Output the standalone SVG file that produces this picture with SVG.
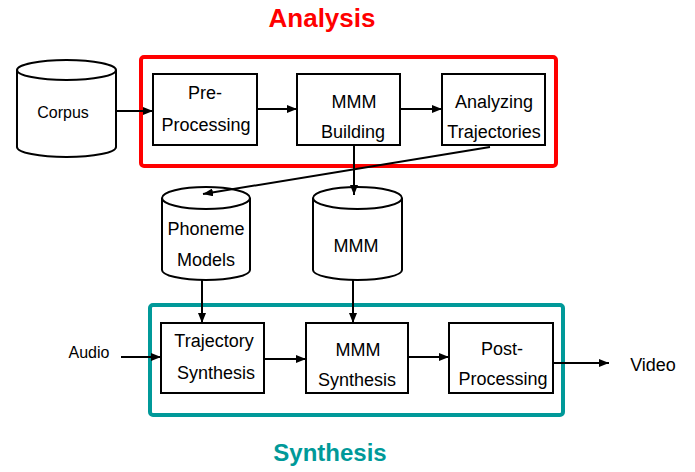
<svg xmlns="http://www.w3.org/2000/svg" width="695" height="472" viewBox="0 0 695 472">
  <defs>
    <marker id="arrow" markerWidth="10" markerHeight="8" refX="10" refY="4" orient="auto" markerUnits="userSpaceOnUse">
      <path d="M0,0 L10,4 L0,8 Z" fill="#000"/>
    </marker>
    <style>
      .box { fill: #fff; stroke: #000; stroke-width: 2; }
      .cyl { fill: #fff; stroke: #000; stroke-width: 2; stroke-linejoin: round; }
      .lbl { font-family: "Liberation Sans", Arial, sans-serif; font-size: 18px; fill: #000; text-anchor: middle; }
      .sm { font-size: 16px; }
      .conn { stroke: #000; stroke-width: 2; fill: none; marker-end: url(#arrow); }
      .title { font-family: "Liberation Sans", Arial, sans-serif; font-weight: bold; text-anchor: middle; }
    </style>
  </defs>

  <rect width="695" height="472" fill="#fff"/>

  <!-- section titles -->
  <text class="title" x="322" y="27" font-size="26" fill="#FF0000">Analysis</text>
  <text class="title" x="330" y="461" font-size="24" fill="#009999">Synthesis</text>

  <!-- section frames -->
  <rect id="analysis-frame" x="141" y="57" width="415" height="109" rx="3" fill="none" stroke="#FF0000" stroke-width="4"/>
  <rect id="synthesis-frame" x="150" y="305" width="413" height="110" rx="3" fill="none" stroke="#009999" stroke-width="4"/>

  <!-- data stores -->
  <g id="corpus">
    <path class="cyl" d="M17,70 A49.5,10 0 0 1 116,70 L116,147 A49.5,10 0 0 1 17,147 Z"/>
    <path class="cyl" d="M17,70 A49.5,10 0 0 0 116,70" fill="none"/>
    <text class="lbl sm" x="63" y="118">Corpus</text>
  </g>
  <g id="phoneme-models">
    <path class="cyl" d="M162,198 A44,11 0 0 1 250,198 L250,270 A44,10 0 0 1 162,270 Z"/>
    <path class="cyl" d="M162,198 A44,11 0 0 0 250,198" fill="none"/>
    <text class="lbl" x="206" y="235">Phoneme</text>
    <text class="lbl" x="206" y="266">Models</text>
  </g>
  <g id="mmm-store">
    <path class="cyl" d="M313,198 A44.5,11 0 0 1 402,198 L402,270 A44.5,10 0 0 1 313,270 Z"/>
    <path class="cyl" d="M313,198 A44.5,11 0 0 0 402,198" fill="none"/>
    <text class="lbl" x="356" y="252">MMM</text>
  </g>

  <!-- analysis stages -->
  <g id="pre-processing">
    <rect class="box" x="153" y="74" width="104" height="71"/>
    <text class="lbl" x="205" y="99">Pre-</text>
    <text class="lbl" x="206" y="131">Processing</text>
  </g>
  <g id="mmm-building">
    <rect class="box" x="297" y="74" width="103" height="71"/>
    <text class="lbl" x="354" y="108">MMM</text>
    <text class="lbl" x="353" y="138">Building</text>
  </g>
  <g id="analyzing-trajectories">
    <rect class="box" x="442" y="74" width="103" height="71"/>
    <text class="lbl" x="494" y="108">Analyzing</text>
    <text class="lbl" x="494" y="138">Trajectories</text>
  </g>

  <!-- synthesis stages -->
  <g id="trajectory-synthesis">
    <rect class="box" x="161" y="323" width="103" height="70"/>
    <text class="lbl" x="214" y="347">Trajectory</text>
    <text class="lbl" x="216" y="379">Synthesis</text>
  </g>
  <g id="mmm-synthesis">
    <rect class="box" x="306" y="323" width="102" height="70"/>
    <text class="lbl" x="358" y="356">MMM</text>
    <text class="lbl" x="357" y="386">Synthesis</text>
  </g>
  <g id="post-processing">
    <rect class="box" x="449" y="323" width="104" height="70"/>
    <text class="lbl" x="502" y="355">Post-</text>
    <text class="lbl" x="503" y="385">Processing</text>
  </g>

  <!-- external inputs / outputs -->
  <g id="audio">
    <text class="lbl sm" x="89" y="358">Audio</text>
  </g>
  <g id="video">
    <text class="lbl" x="653" y="371">Video</text>
  </g>

  <!-- connectors -->
  <g id="connectors">
    <line class="conn" x1="116" y1="111" x2="153" y2="111"/>
    <line class="conn" x1="257" y1="109" x2="297" y2="109"/>
    <line class="conn" x1="400" y1="109" x2="442" y2="109"/>
    <line class="conn" x1="490" y1="147" x2="203" y2="194"/>
    <line class="conn" x1="354" y1="145" x2="354" y2="195"/>
    <line class="conn" x1="202" y1="280" x2="202" y2="323"/>
    <line class="conn" x1="353" y1="280" x2="353" y2="323"/>
    <line class="conn" x1="121" y1="357" x2="161" y2="357"/>
    <line class="conn" x1="264" y1="359" x2="306" y2="359"/>
    <line class="conn" x1="408" y1="357" x2="449" y2="357"/>
    <line class="conn" x1="553" y1="363" x2="609" y2="363"/>
  </g>
</svg>
